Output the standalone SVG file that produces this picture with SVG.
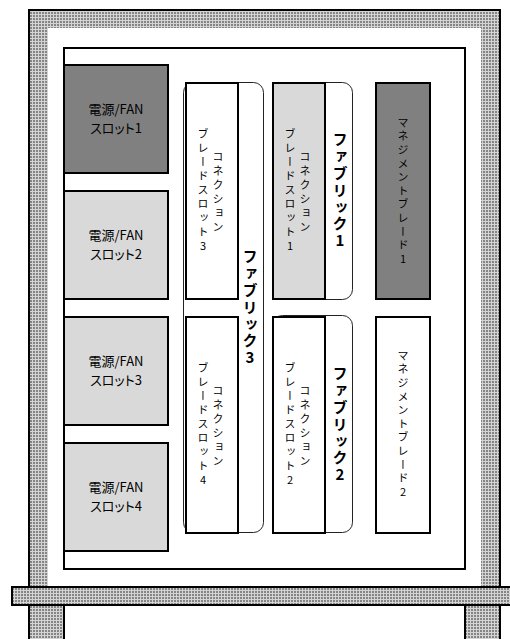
<svg xmlns="http://www.w3.org/2000/svg" width="510" height="639" viewBox="0 0 510 639">
<style>
.sl{stroke:#000;stroke-width:2}
.dk{fill:#808080}
.lt{fill:#d9d9d9}
.wh{fill:#fff}
.fab{fill:#fff;stroke:#222;stroke-width:1}
.t{font-family:"Noto Sans CJK JP","DejaVu Sans",sans-serif;fill:#000;font-feature-settings:"palt"}
.pw{font-size:13px;text-anchor:middle}
.v{writing-mode:vertical-rl;text-orientation:upright;text-anchor:middle}
.bl{font-size:11px;letter-spacing:3px}
.mg{font-size:11px;letter-spacing:2.6px}
.fb{font-size:15px;font-weight:bold;letter-spacing:1.8px}
.hatch{fill:url(#hatch)}
</style>
<defs>
<pattern id="hatch" width="3" height="3" patternUnits="userSpaceOnUse">
<rect width="3" height="3" fill="#d4d4d4"/>
<rect width="2" height="2" fill="#858585"/>
</pattern>
</defs>
<g id="frame">
<path class="hatch" d="M29,10 H500 V587 H481 V28 H48 V587 H29 Z"/>
<path d="M29,587 V10 H500 V587" fill="none" stroke="#000" stroke-width="2"/>
<rect class="hatch" x="12" y="587" width="510" height="18" stroke="#000" stroke-width="2"/>
<rect class="hatch" x="29" y="605" width="35" height="40" stroke="#000" stroke-width="2"/>
<rect class="hatch" x="465" y="605" width="35" height="40" stroke="#000" stroke-width="2"/>
</g>
<g id="panel">
<rect x="64" y="48" width="401" height="521" fill="#fff" stroke="#000" stroke-width="2"/>
</g>
<g id="psu1">
<rect class="sl dk" x="64" y="65" width="104" height="108"/>
<text class="t pw" x="116" y="114">電源/FAN</text>
<text class="t pw" x="116" y="133">スロット1</text>
</g>
<g id="psu2">
<rect class="sl lt" x="64" y="191" width="104" height="108"/>
<text class="t pw" x="116" y="240">電源/FAN</text>
<text class="t pw" x="116" y="259">スロット2</text>
</g>
<g id="psu3">
<rect class="sl lt" x="64" y="317" width="104" height="108"/>
<text class="t pw" x="116" y="366">電源/FAN</text>
<text class="t pw" x="116" y="385">スロット3</text>
</g>
<g id="psu4">
<rect class="sl lt" x="64" y="443" width="104" height="108"/>
<text class="t pw" x="116" y="492">電源/FAN</text>
<text class="t pw" x="116" y="511">スロット4</text>
</g>
<g id="fabric3">
<rect class="fab" x="183.5" y="82.5" width="80" height="450" rx="10"/>
<text class="t v fb" x="250" y="308">ファブリック3</text>
</g>
<g id="fabric1">
<rect class="fab" x="272.5" y="82.5" width="80" height="217" rx="10"/>
<text class="t v fb" x="340" y="191">ファブリック1</text>
</g>
<g id="fabric2">
<rect class="fab" x="272.5" y="315.5" width="80" height="217" rx="10"/>
<text class="t v fb" x="340" y="425">ファブリック2</text>
</g>
<g id="blade3">
<rect class="sl wh" x="186" y="83" width="52" height="216"/>
<text class="t v bl" x="218" y="193">コネクション</text>
<text class="t v bl" x="203" y="191">ブレードスロット3</text>
</g>
<g id="blade4">
<rect class="sl wh" x="186" y="317" width="52" height="216"/>
<text class="t v bl" x="218" y="427">コネクション</text>
<text class="t v bl" x="203" y="425">ブレードスロット4</text>
</g>
<g id="blade1">
<rect class="sl lt" x="273" y="83" width="52" height="216"/>
<text class="t v bl" x="305" y="193">コネクション</text>
<text class="t v bl" x="290" y="191">ブレードスロット1</text>
</g>
<g id="blade2">
<rect class="sl wh" x="273" y="317" width="52" height="216"/>
<text class="t v bl" x="305" y="427">コネクション</text>
<text class="t v bl" x="290" y="425">ブレードスロット2</text>
</g>
<g id="mgmt1">
<rect class="sl dk" x="376" y="83" width="54" height="216"/>
<text class="t v mg" x="403" y="192">マネジメントブレード1</text>
</g>
<g id="mgmt2">
<rect class="sl wh" x="376" y="317" width="54" height="216"/>
<text class="t v mg" x="403" y="425">マネジメントブレード2</text>
</g>
</svg>
